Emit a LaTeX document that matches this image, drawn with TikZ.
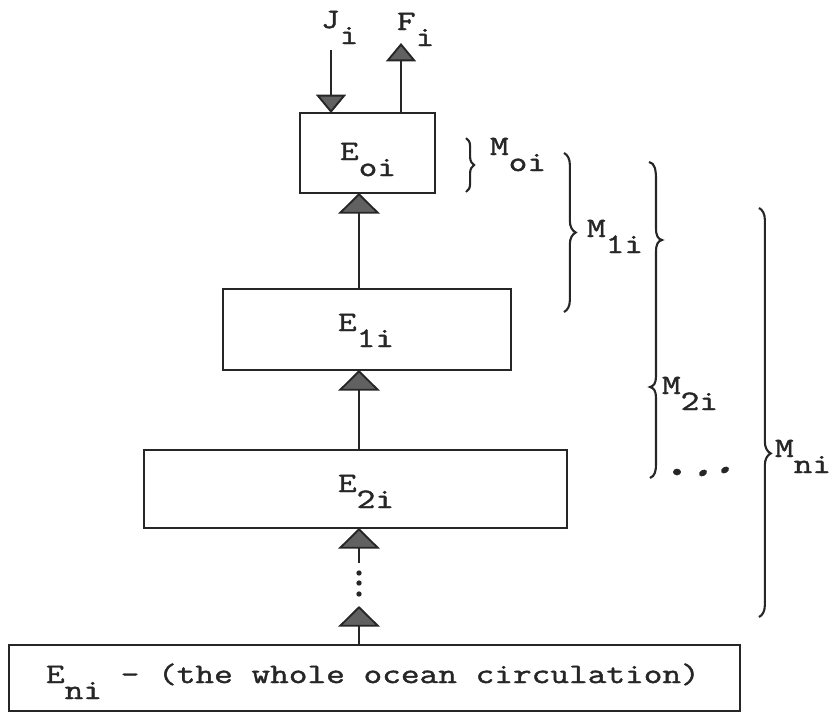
\documentclass[tikz,border=0pt]{standalone}
\usepackage{fontspec}
\newfontfamily\tw[FakeStretch=1.29,FakeBold=1.5]{Latin Modern Mono}
\usetikzlibrary{arrows.meta,decorations.pathreplacing}
\definecolor{ink}{gray}{0.15}
\definecolor{headgray}{gray}{0.38}
\newcommand\Esub[2]{#1\raisebox{-0.48cm}{#2}}
\begin{document}
\begin{tikzpicture}[x=0.03cm,y=-0.03cm,
  box/.style={draw=ink, line width=2pt, inner sep=0pt, outer sep=0pt},
  lbl/.style={inner sep=0pt, outer sep=0pt, anchor=base west, text=ink,
              font=\tw\fontsize{24pt}{28pt}\selectfont},
  arr/.style={draw=ink, line width=1.6pt,
              -{Triangle[width=1.25cm,length=0.62cm,color=ink,fill=headgray]}},
  arrS/.style={draw=ink, line width=1.6pt,
              -{Triangle[width=0.9cm,length=0.55cm,color=ink,fill=headgray]}},
  mbrace/.style={draw=ink, line width=1.8pt, decorate},
  dotm/.style={fill=ink}]
\useasboundingbox (0,0) rectangle (834,714);

% boxes
\node[box, minimum width=4.05cm, minimum height=2.4cm]  (Eo) at (367.5,153) {};
\node[box, minimum width=8.64cm, minimum height=2.43cm] (E1) at (367,329.5) {};
\node[box, minimum width=12.69cm, minimum height=2.34cm] (E2) at (355.5,489) {};
\node[box, minimum width=21.93cm, minimum height=1.98cm] (En) at (374.5,678) {};

% box texts
\node[lbl] (tEo) at (340,160) {\Esub{E}{oi}};
\node[lbl] (tE1) at (338,331) {\Esub{E}{1i}};
\node[lbl] (tE2) at (338,492) {\Esub{E}{2i}};
\node[lbl] (tEn) at (46,683) {\Esub{E}{ni} - (the whole ocean circulation)};

% top inputs/outputs
\node[lbl] (tJ) at (321,28) {\Esub{J}{i}};
\node[lbl] (tF) at (397,30) {\Esub{F}{i}};
\coordinate (Jtop) at (331,50);
\coordinate (Ftip) at (401,43);
\draw[arrS] (Jtop) -- (Jtop |- Eo.north);
\draw[arrS] (Ftip |- Eo.north) -- (Ftip);

% vertical chain
\coordinate (col) at (359,0);
\draw[arr] (E1.north -| col) -- (Eo.south -| col);
\draw[arr] (E2.north -| col) -- (E1.south -| col);
\coordinate (dtop) at (359,563);
\coordinate (dbot) at (359,606);
\draw[arr] (dtop) -- (dtop |- E2.south);
\draw[arr] (En.north -| col) -- (dbot);
\fill[dotm] (359,573) circle [radius=0.08cm];
\fill[dotm] (359,583) circle [radius=0.08cm];
\fill[dotm] (359,594) circle [radius=0.08cm];

% braces and labels
\draw[mbrace, decoration={brace, amplitude=7pt, aspect=0.5}] (466,138) -- (466,192);
\node[lbl] (tMo) at (490,155) {\Esub{M}{oi}};

\draw[mbrace, decoration={brace, amplitude=10pt, aspect=0.5}] (564,153) -- (564,312);
\node[lbl] (tM1) at (587,237) {\Esub{M}{1i}};

\draw[draw=ink, line width=1.8pt]
  (649,162) .. controls (655,163) and (656,170) .. (656,180)
  -- (656,228) .. controls (656,236) and (658,239) .. (662,240)
  .. controls (658,241) and (656,244) .. (656,252)
  -- (656,376) .. controls (656,383) and (654,386) .. (650,387)
  .. controls (654,388) and (656,391) .. (656,398)
  -- (656,464) .. controls (656,471) and (655,476) .. (650,478);
\node[lbl] (tM2) at (662,394) {\Esub{M}{2i}};
\fill[dotm] (677,472) ellipse [x radius=0.12cm, y radius=0.1cm];
\fill[dotm, rotate around={30:(703,473)}] (703,473) ellipse [x radius=0.13cm, y radius=0.09cm];
\fill[dotm, rotate around={30:(725,470)}] (725,470) ellipse [x radius=0.13cm, y radius=0.09cm];

\draw[mbrace, decoration={brace, amplitude=10pt, aspect=0.6}] (759,208) -- (759,617);
\node[lbl] (tMn) at (775,457) {\Esub{M}{ni}};
\end{tikzpicture}
\end{document}
